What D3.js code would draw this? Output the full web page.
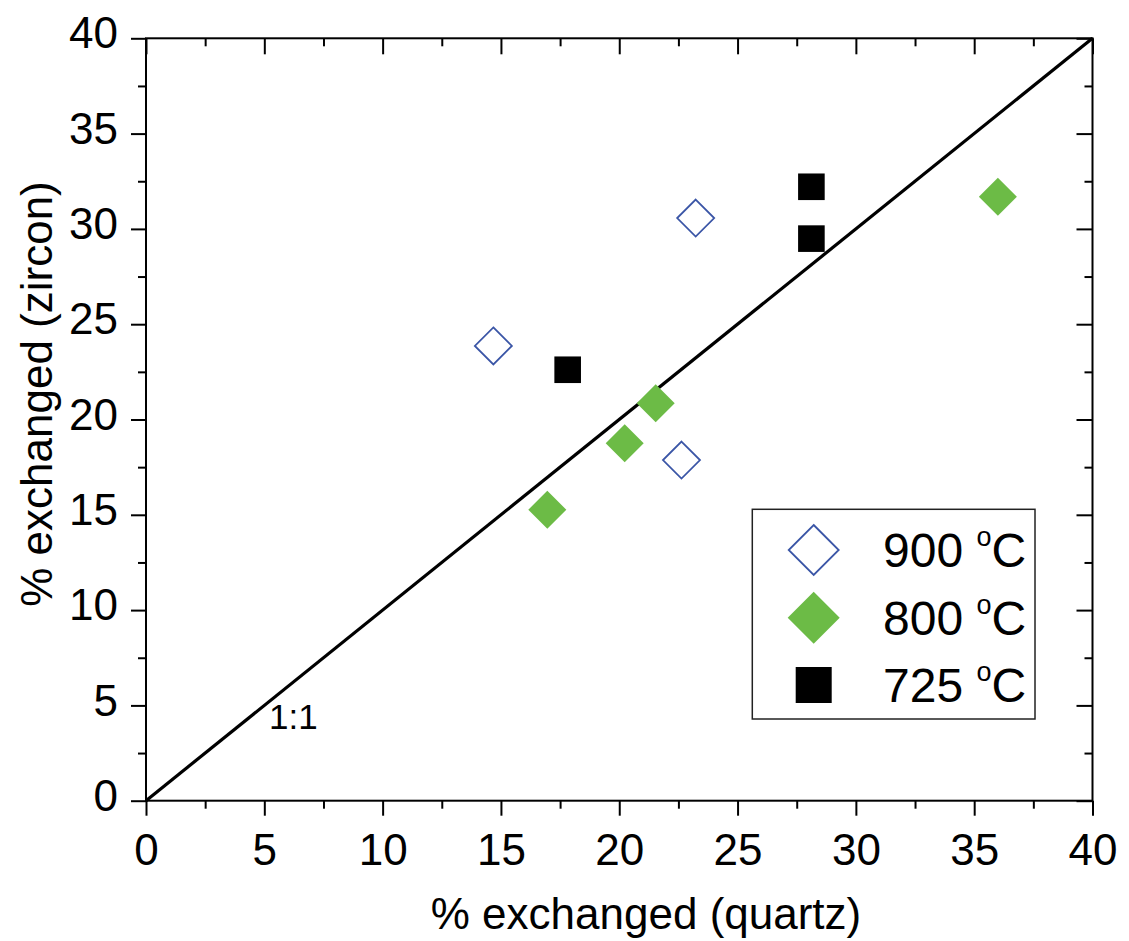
<!DOCTYPE html>
<html>
<head>
<meta charset="utf-8">
<script src="https://cdn.jsdelivr.net/npm/d3@7"></script>
<style>
  html, body { margin: 0; padding: 0; background: #fff; }
  text { font-family: "Liberation Sans", Arial, sans-serif; fill: #000; }
</style>
</head>
<body>
<svg id="chart" width="1129" height="941"></svg>
<script>
// ---- data ----
const series = ["900 \u00B0C", "800 \u00B0C", "725 \u00B0C"];
const quartz900 = [14.68, 23.23, 22.63];
const zircon900 = [23.86, 30.57, 17.87];
const quartz800 = [16.96, 20.23, 21.54, 36.0];
const zircon800 = [15.27, 18.75, 20.85, 31.69];
const quartz725 = [17.82, 28.12, 28.12];
const zircon725 = [22.61, 32.21, 29.49];
const majorTicks = [0, 5, 10, 15, 20, 25, 30, 35, 40];
const minorTicks = [2.5, 7.5, 12.5, 17.5, 22.5, 27.5, 32.5, 37.5];
const oneToOne = [[0, 0], [40, 40]];
const xTitle = "% exchanged (quartz)";
const yTitle = "% exchanged (zircon)";
const lineLabel = "1:1";

// ---- layout ----
const svg = d3.select("#chart");
const L = 146, R = 1092.5, T = 38.3, B = 800.7;
const x = d3.scaleLinear().domain([0, 40]).range([L, R]);
const y = d3.scaleLinear().domain([0, 40]).range([B, T]);

const blue = "#3a55a6", green = "#6cbb46";
const fs = 44;

function axisG(axis, tr) {
  const g = svg.append("g").attr("transform", tr).call(axis);
  g.select(".domain").remove();
  g.selectAll("line").attr("stroke", "#000").attr("stroke-width", 2);
  return g;
}
// bottom
const gb = axisG(d3.axisBottom(x).tickValues(majorTicks).tickSize(15).tickPadding(18).tickFormat(d3.format("d")), `translate(0,${B})`);
gb.selectAll("text").style("font-size", fs + "px").attr("font-family", null);
axisG(d3.axisBottom(x).tickValues(minorTicks).tickSize(8).tickFormat(""), `translate(0,${B})`);
// left
const gl = axisG(d3.axisLeft(y).tickValues(majorTicks).tickSize(15).tickPadding(13).tickFormat(d3.format("d")), `translate(${L},0)`);
gl.selectAll("text").style("font-size", fs + "px").attr("font-family", null).attr("dy", "0.22em");
axisG(d3.axisLeft(y).tickValues(minorTicks).tickSize(8).tickFormat(""), `translate(${L},0)`);
// top (inward)
axisG(d3.axisTop(x).tickValues(majorTicks).tickSize(-16).tickFormat(""), `translate(0,${T})`);
axisG(d3.axisTop(x).tickValues(minorTicks).tickSize(-8).tickFormat(""), `translate(0,${T})`);
// right (inward)
axisG(d3.axisRight(y).tickValues(majorTicks).tickSize(-16).tickFormat(""), `translate(${R},0)`);
axisG(d3.axisRight(y).tickValues(minorTicks).tickSize(-8).tickFormat(""), `translate(${R},0)`);

// frame
svg.append("rect").attr("x", L).attr("y", T).attr("width", R - L).attr("height", B - T)
  .attr("fill", "none").attr("stroke", "#000").attr("stroke-width", 2);

// 1:1 line
svg.append("path").datum(oneToOne)
  .attr("d", d3.line().x(d => x(d[0])).y(d => y(d[1])))
  .attr("stroke", "#000").attr("stroke-width", 3.2).attr("fill", "none");
svg.append("text").attr("x", x(5.2)).attr("y", y(3.75))
  .style("font-size", "35px").text(lineLabel);

// markers
const diamond = s => `M0,${-s}L${s},0L0,${s}L${-s},0Z`;
const zip = (a, b) => a.map((v, i) => [v, b[i]]);

svg.append("g").selectAll("path").data(zip(quartz900, zircon900)).join("path")
  .attr("transform", d => `translate(${x(d[0])},${y(d[1])})`)
  .attr("d", diamond(18.5)).attr("fill", "#fff").attr("stroke", blue).attr("stroke-width", 1.8);

svg.append("g").selectAll("path").data(zip(quartz800, zircon800)).join("path")
  .attr("transform", d => `translate(${x(d[0])},${y(d[1])})`)
  .attr("d", diamond(19)).attr("fill", green);

svg.append("g").selectAll("rect").data(zip(quartz725, zircon725)).join("rect")
  .attr("x", d => x(d[0]) - 13.3).attr("y", d => y(d[1]) - 13.3)
  .attr("width", 26.6).attr("height", 26.6).attr("fill", "#000");

// legend
const lg = svg.append("g");
lg.append("rect").attr("x", 752.3).attr("y", 509.3).attr("width", 282.7).attr("height", 209.7)
  .attr("fill", "#fff").attr("stroke", "#222").attr("stroke-width", 1.5);
const rowsY = [550, 617.7, 685];
const symX = 813.7;
lg.append("path").attr("transform", `translate(${symX},${rowsY[0]})`)
  .attr("d", diamond(25)).attr("fill", "#fff").attr("stroke", blue).attr("stroke-width", 1.8);
lg.append("path").attr("transform", `translate(${symX},${rowsY[1]})`)
  .attr("d", diamond(26)).attr("fill", green);
lg.append("rect").attr("x", symX - 18).attr("y", rowsY[2] - 18).attr("width", 36).attr("height", 36).attr("fill", "#000");
series.forEach((s, i) => {
  const parts = s.split(" \u00B0");
  const t = lg.append("text").attr("x", 883).attr("y", rowsY[i] + 17).style("font-size", "48px");
  t.append("tspan").text(parts[0] + " ");
  t.append("tspan").attr("dy", -21).style("font-size", "27px").text("o");
  t.append("tspan").attr("dy", 21).text(parts[1]);
});

// titles
svg.append("text").attr("x", 646).attr("y", 929).attr("text-anchor", "middle")
  .style("font-size", fs + "px").text(xTitle);
svg.append("text").attr("transform", `translate(52,394) rotate(-90)`).attr("text-anchor", "middle")
  .style("font-size", fs + "px").text(yTitle);
</script>
</body>
</html>
